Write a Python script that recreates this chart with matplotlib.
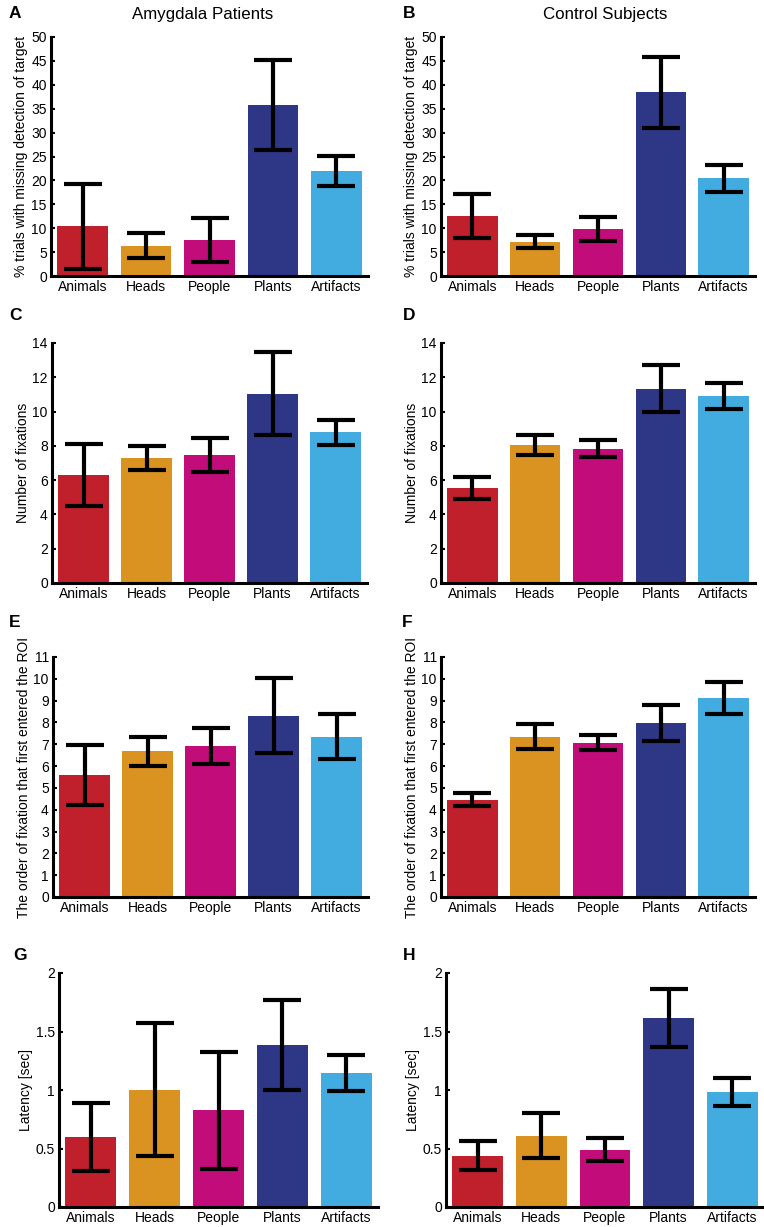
import matplotlib
matplotlib.use("Agg")
import matplotlib.pyplot as plt
from matplotlib.ticker import FuncFormatter

plt.rcParams['font.family'] = ['Liberation Sans', 'DejaVu Sans']

# categories and colours
categories = ['Animals', 'Heads', 'People', 'Plants', 'Artifacts']
colors = ['#C0202C', '#DA9220', '#C20C7A', '#2E3686', '#42ACE0']

# A / B : % trials with missing detection of target
missA = [10.4, 6.3, 7.5, 35.7, 21.9]
missA_err = [8.9, 2.6, 4.65, 9.4, 3.15]
missB = [12.5, 7.2, 9.75, 38.4, 20.4]
missB_err = [4.65, 1.4, 2.5, 7.45, 2.9]

# C / D : number of fixations
fixC = [6.32, 7.29, 7.45, 11.04, 8.79]
fixC_err = [1.8, 0.7, 1.0, 2.42, 0.73]
fixD = [5.52, 8.03, 7.84, 11.32, 10.93]
fixD_err = [0.64, 0.58, 0.5, 1.37, 0.76]

# E / F : order of fixation that first entered the ROI
ordE = [5.59, 6.68, 6.92, 8.31, 7.35]
ordE_err = [1.38, 0.67, 0.82, 1.73, 1.04]
ordF = [4.46, 7.35, 7.07, 7.96, 9.12]
ordF_err = [0.31, 0.56, 0.35, 0.83, 0.73]

# G / H : latency
latG = [0.598, 1.003, 0.829, 1.385, 1.148]
latG_err = [0.29, 0.57, 0.50, 0.386, 0.154]
latH = [0.439, 0.610, 0.490, 1.618, 0.986]
latH_err = [0.126, 0.19, 0.096, 0.248, 0.12]

W, H = 764, 1227
fig = plt.figure(figsize=(W / 100, H / 100), dpi=100)


def make_axes(l, r, t, b):
    return fig.add_axes([l / W, 1 - b / H, (r - l) / W, (b - t) / H])


def panel(box, vals, errs, ymax, ystep, ylabel, letter, letter_xy, title=None, title_x=None):
    ax = make_axes(*box)
    x = list(range(1, len(vals) + 1))
    ax.bar(x, vals, width=0.8, color=colors, zorder=2)
    ax.errorbar(x, vals, yerr=errs, fmt='none', ecolor='black', elinewidth=3,
                capsize=13.5, capthick=3, zorder=3)
    ax.set_xlim(0.5, 5.5)
    ax.set_ylim(0, ymax)
    ticks = []
    v = 0
    while v <= ymax + 1e-9:
        ticks.append(v)
        v += ystep
    ax.set_yticks(ticks)
    ax.yaxis.set_major_formatter(FuncFormatter(lambda val, pos: '%g' % val))
    ax.set_xticks(x)
    ax.set_xticklabels(categories)
    for s in ['top', 'right']:
        ax.spines[s].set_visible(False)
    for s in ['left', 'bottom']:
        ax.spines[s].set_linewidth(2.2)
    ax.tick_params(axis='x', length=0, pad=3, labelsize=10)
    ax.tick_params(axis='y', direction='in', length=3, width=1.5, pad=3, labelsize=10)
    ax.set_ylabel(ylabel, fontsize=10, labelpad=2)
    fig.text(letter_xy[0] / W, 1 - letter_xy[1] / H, letter, fontsize=12.5,
             fontweight='bold', ha='center', va='center')
    if title:
        fig.text(title_x / W, 1 - 15 / H, title, fontsize=12.2, ha='center', va='center')
    return ax


lab_miss = '% trials with missing detection of target'
lab_fix = 'Number of fixations'
lab_ord = 'The order of fixation that first entered the ROI'
lab_lat = 'Latency [sec]'

panel((51, 368, 37, 276), missA, missA_err, 50, 5, lab_miss, 'A', (15, 13),
      'Amygdala Patients', 203)
panel((441, 755, 37, 276), missB, missB_err, 50, 5, lab_miss, 'B', (409, 13),
      'Control Subjects', 605)
panel((52, 367, 343, 583), fixC, fixC_err, 14, 2, lab_fix, 'C', (15, 315))
panel((441, 755, 343, 583), fixD, fixD_err, 14, 2, lab_fix, 'D', (409, 315))
panel((53, 368, 657, 897), ordE, ordE_err, 11, 1, lab_ord, 'E', (15, 623))
panel((441, 755, 657, 897), ordF, ordF_err, 11, 1, lab_ord, 'F', (407, 623))
panel((59, 378, 973, 1207), latG, latG_err, 2, 0.5, lab_lat, 'G', (20, 955))
panel((446, 764, 973, 1207), latH, latH_err, 2, 0.5, lab_lat, 'H', (409, 955))

fig.savefig('out.png', dpi=100)
